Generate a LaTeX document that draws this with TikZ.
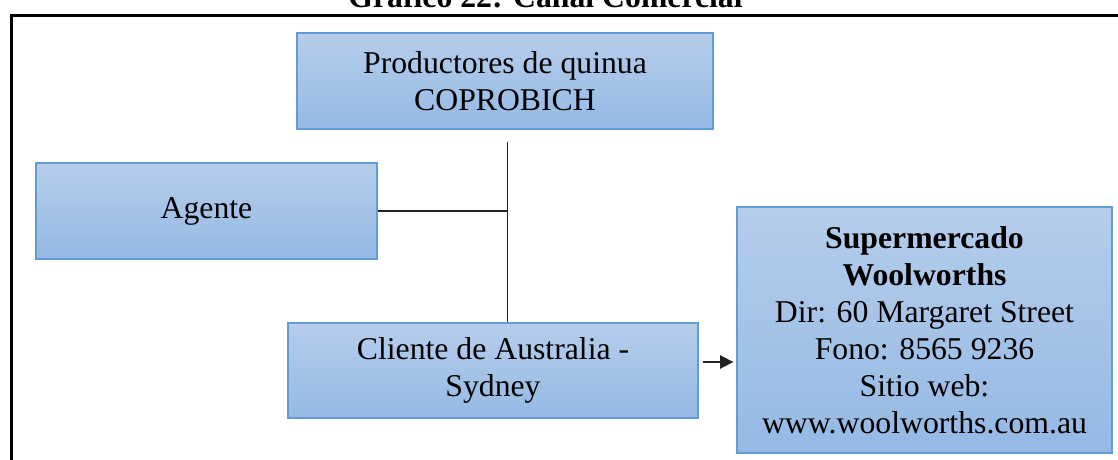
\documentclass[tikz,border=0pt]{standalone}
\usepackage{fontspec}
\setmainfont{Liberation Serif}
\usetikzlibrary{arrows.meta}

\definecolor{cajaArriba}{RGB}{182,205,235}
\definecolor{cajaAbajo}{RGB}{148,185,228}
\definecolor{cajaBorde}{RGB}{98,156,214}
\definecolor{lineaOscura}{RGB}{34,34,34}

\tikzset{
  caja/.style={draw=cajaBorde, line width=1pt, top color=cajaArriba, bottom color=cajaAbajo,
    rectangle, align=center, inner sep=0pt, text=black,
    font=\fontsize{23.8pt}{27.75pt}\selectfont},
  enlace/.style={draw=lineaOscura, line width=1.3pt},
}

\begin{document}
\begin{tikzpicture}[x=0.75pt,y=0.75pt,yscale=-1,xscale=1]
\useasboundingbox (0,0) rectangle (1118,460);
\clip (0,0) rectangle (1118,460);

% Title (cut at top)
\node [anchor=base, font=\fontsize{23.8pt}{27.75pt}\selectfont\bfseries] (titulo) at (545.5,8) {Gráfico 22: Canal Comercial};

% Frame
\draw [line width=2.25pt] (11,470) -- (11,15.5) -- (1130,15.5);

% Boxes
\node [caja, minimum width=312pt, minimum height=72pt] (productores) at (505,81) {Productores de quinua\\COPROBICH};
\node [caja, minimum width=255.75pt, minimum height=72pt] (agente) at (206.5,211) {Agente};
\node [caja, minimum width=307.5pt, minimum height=71.25pt] (cliente) at (493,370.5) {Cliente de Australia -\\Sydney};
\node [caja, minimum width=281.25pt, minimum height=184.5pt] (super) at (924.5,330)
  {\textbf{Supermercado}\\\textbf{Woolworths}\\Dir: 60 Margaret Street\\Fono: 8565 9236\\Sitio web:\\www.woolworths.com.au};

% Connectors
\coordinate (tope) at (507.5,142);
\coordinate (salida) at (703,362);
\draw [enlace] (tope) -- (tope |- cliente.north);
\draw [enlace] (agente.east) -- (agente.east -| tope);
\draw [enlace, -{Triangle[length=10pt,width=10pt]}] (salida) -- ([xshift=-2.25pt]salida -| super.west);

\end{tikzpicture}
\end{document}
